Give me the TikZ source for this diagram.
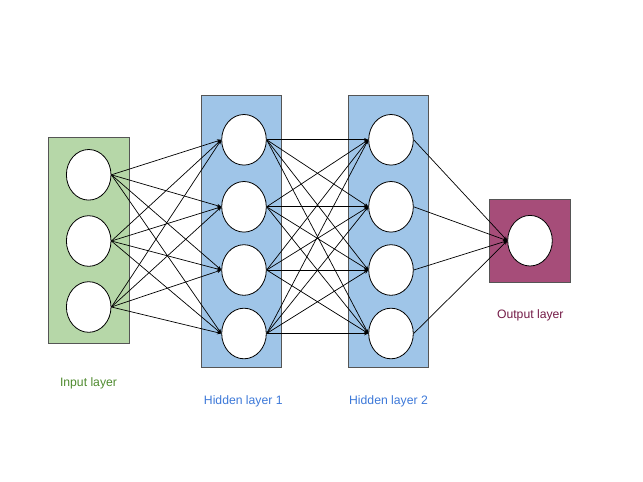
\documentclass[tikz,border=0pt]{standalone}
\usepackage{fontspec}
\setmainfont{Liberation Sans}
\usetikzlibrary{shapes.geometric,arrows.meta}
\definecolor{ingreen}{HTML}{B6D7A8}
\definecolor{hidblue}{HTML}{9FC5E8}
\definecolor{outpurple}{HTML}{A64D79}
\definecolor{intext}{HTML}{4E8A2E}
\definecolor{hidtext}{HTML}{3C78D8}
\definecolor{outtext}{HTML}{741B47}
\definecolor{boxline}{HTML}{555555}
\tikzset{
  neuron/.style={ellipse, draw=black, fill=white, line width=0.8pt, minimum width=44.6pt, minimum height=50.6pt, inner sep=0pt},
  layerbox/.style={draw=boxline, line width=1pt},
  conn/.style={draw=black, line width=0.7pt, -{Stealth[length=4.2pt,width=3.6pt]}},
  lbl/.style={font=\fontsize{12.2pt}{14pt}\selectfont, inner sep=0pt, anchor=center}
}
\begin{document}
\begin{tikzpicture}[x=1pt,y=-1pt]
\useasboundingbox (0,0) rectangle (643,482);
% boxes
\draw[layerbox, fill=ingreen] (48.3,137.5) rectangle (129,343.7);
\draw[layerbox, fill=hidblue] (201,95) rectangle (281,367.3);
\draw[layerbox, fill=hidblue] (348.3,95) rectangle (428.3,367.3);
\draw[layerbox, fill=outpurple] (489.7,199.3) rectangle (570.7,282.3);
% neurons
\node[neuron] (i1) at (88.7,174.8) {};
\node[neuron] (i2) at (88.7,241) {};
\node[neuron] (i3) at (88.7,307) {};
\node[neuron] (a1) at (244,139.8) {};
\node[neuron] (a2) at (244,206.8) {};
\node[neuron] (a3) at (244,270) {};
\node[neuron] (a4) at (244,333.5) {};
\node[neuron] (b1) at (391,139.8) {};
\node[neuron] (b2) at (391,206.8) {};
\node[neuron] (b3) at (391,270) {};
\node[neuron] (b4) at (391,333.5) {};
\node[neuron] (o1) at (530,240.7) {};
% connections
\foreach \s in {i1,i2,i3}{\foreach \t in {a1,a2,a3,a4}{\draw[conn] (\s.east) -- (\t.west);}}
\foreach \s in {a1,a2,a3,a4}{\foreach \t in {b1,b2,b3,b4}{\draw[conn] (\s.east) -- (\t.west);}}
\foreach \s in {b1,b2,b3,b4}{\draw[conn] (\s.east) -- (o1.west);}
% labels
\node[lbl, text=intext] (li) at (88.5,383) {Input layer};
\node[lbl, text=hidtext] (lh1) at (243.3,401.8) {Hidden layer 1};
\node[lbl, text=hidtext] (lh2) at (388.5,401.8) {Hidden layer 2};
\node[lbl, text=outtext] (lo) at (530.3,315.5) {Output layer};
\end{tikzpicture}
\end{document}
